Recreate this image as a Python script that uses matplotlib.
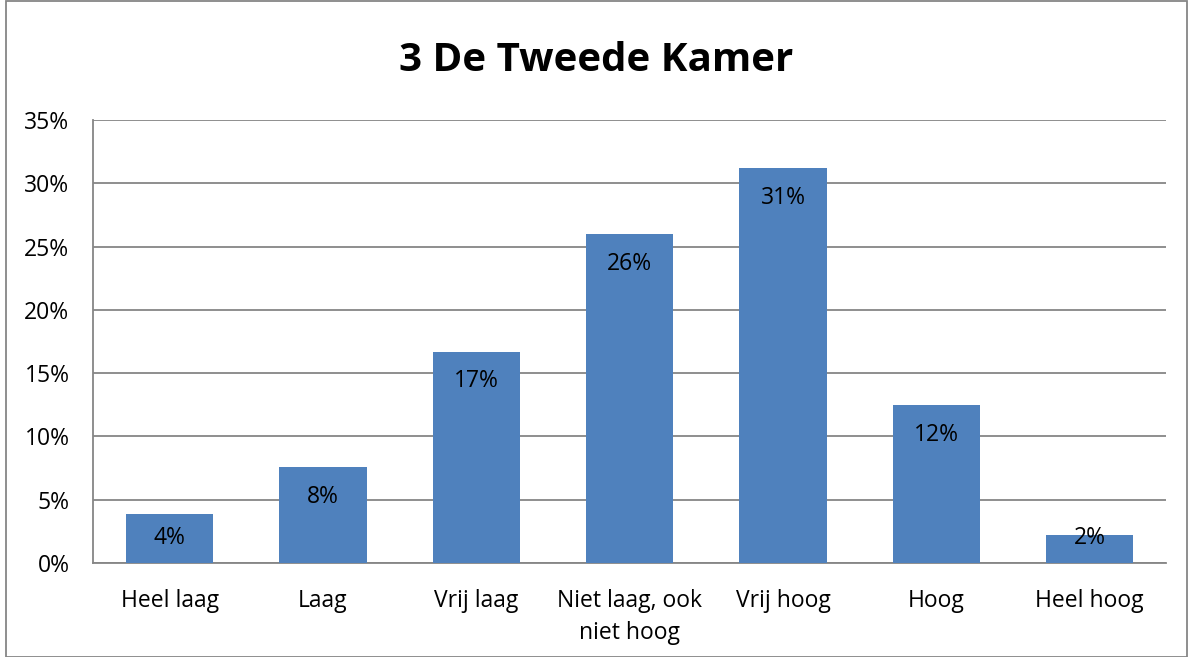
import matplotlib
matplotlib.use('Agg')
import matplotlib.pyplot as plt
from matplotlib.patches import Rectangle

categories = ['Heel laag', 'Laag', 'Vrij laag', 'Niet laag, ook\nniet hoog',
              'Vrij hoog', 'Hoog', 'Heel hoog']
values = [3.9, 7.6, 16.7, 26.0, 31.2, 12.5, 2.2]
labels = ['4%', '8%', '17%', '26%', '31%', '12%', '2%']
yticks = [0, 5, 10, 15, 20, 25, 30, 35]

plt.rcParams['font.family'] = ['Open Sans', 'DejaVu Sans']

fig = plt.figure(figsize=(11.93, 6.57), dpi=100)
ax = fig.add_axes([0.078, 0.1431, 0.8996, 0.6743])

x = range(len(categories))
ax.bar(x, values, width=0.57, color='#4F81BD', zorder=3)

for i, v in enumerate(values):
    y = v - 2.35 if v >= 4.7 else max(v / 2, 2.0)
    ax.text(i, y, labels[i], ha='center', va='center', fontsize=16.5, color='black', zorder=4)

ax.set_xlim(-0.5, len(categories) - 0.5)
ax.set_ylim(0, 35)
ax.set_yticks(yticks)
ax.set_yticklabels(['{}%'.format(t) for t in yticks], fontsize=16.5)
ax.set_xticks(list(x))
ax.set_xticklabels(categories, fontsize=16.5, linespacing=1.4)
ax.tick_params(axis='x', length=0, pad=19)
ax.tick_params(axis='y', length=0, pad=17)
ax.grid(axis='y', color='#868686', linewidth=1.3, zorder=0)
for s in ['top', 'right']:
    ax.spines[s].set_visible(False)
for s in ['left', 'bottom']:
    ax.spines[s].set_color('#868686')
    ax.spines[s].set_linewidth(1.3)

fig.text(0.5, 0.908, '3 De Tweede Kamer', ha='center', va='center',
         fontsize=29, fontweight='bold')

fig.patches.append(Rectangle((0.005, 0.0), 0.99, 0.998, transform=fig.transFigure,
                             fill=False, edgecolor='#868686', linewidth=1.3))

plt.savefig('out.png', dpi=100)
